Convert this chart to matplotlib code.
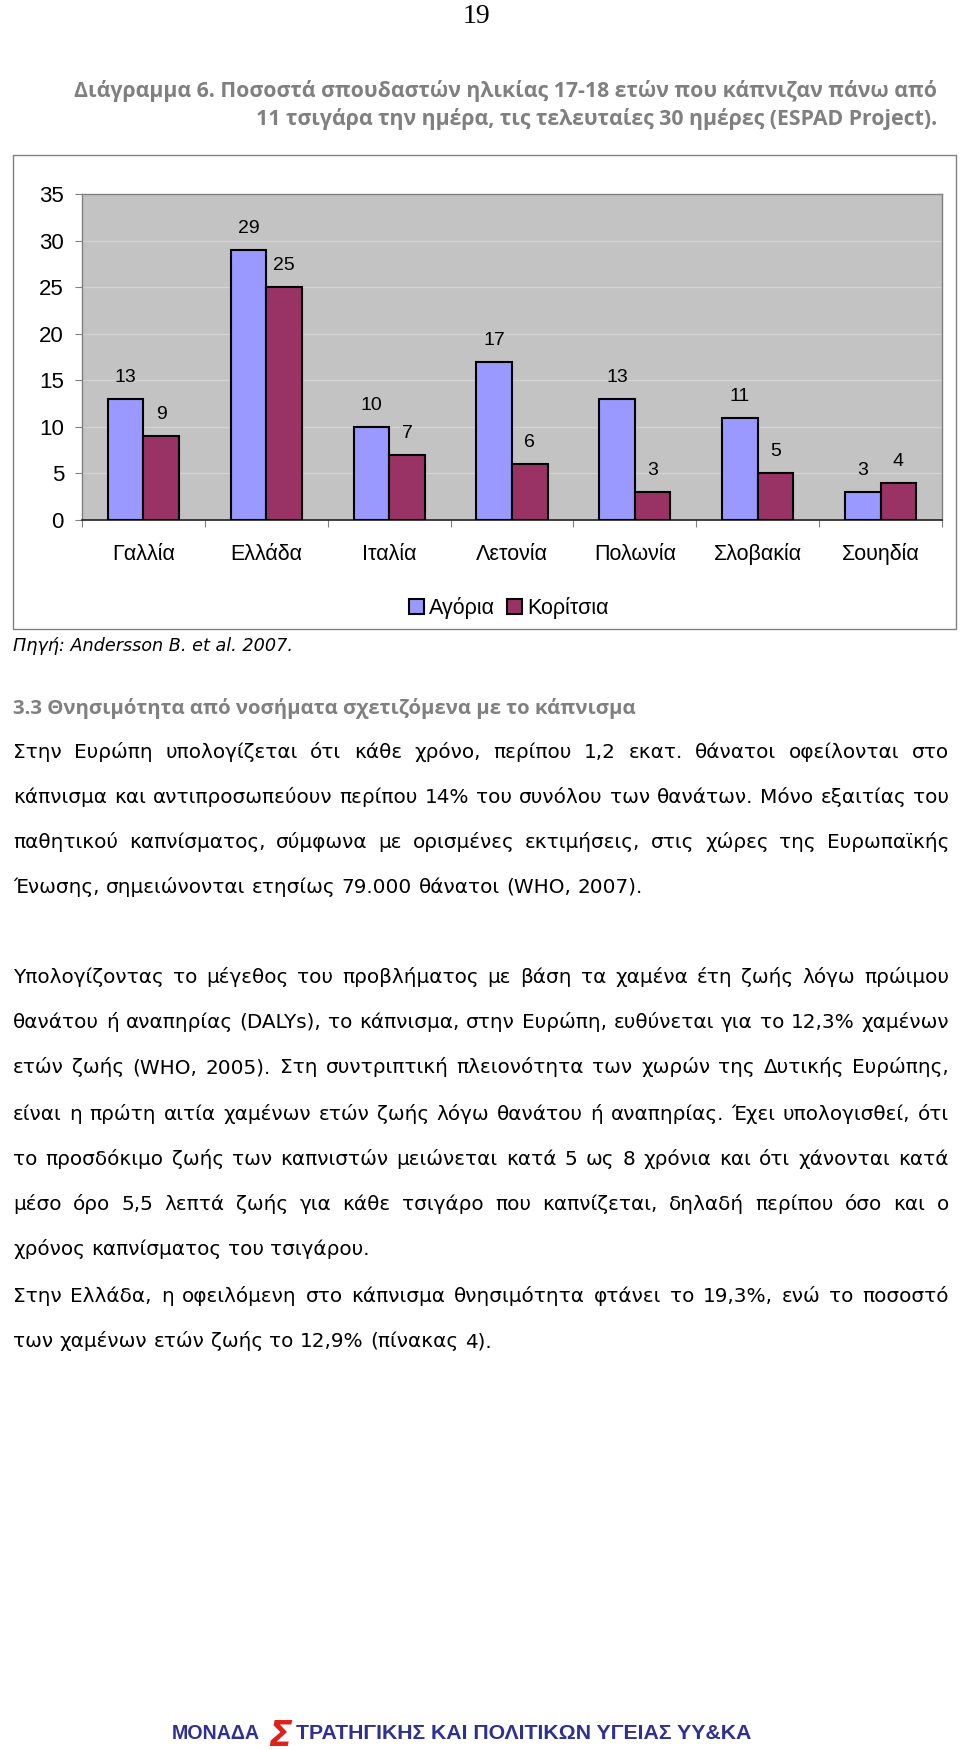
import matplotlib
matplotlib.use('Agg')
import matplotlib.pyplot as plt
import numpy as np
from matplotlib.patches import Rectangle

# ---------------- data ----------------
countries = ['Γαλλία', 'Ελλάδα', 'Ιταλία', 'Λετονία', 'Πολωνία', 'Σλοβακία', 'Σουηδία']
boys = [13, 29, 10, 17, 13, 11, 3]
girls = [9, 25, 7, 6, 3, 5, 4]
series_names = ['Αγόρια', 'Κορίτσια']
yticks = [0, 5, 10, 15, 20, 25, 30, 35]

page_number = '19'
title_lines = ['Διάγραμμα 6. Ποσοστά σπουδαστών ηλικίας 17-18 ετών που κάπνιζαν πάνω από',
               '11 τσιγάρα την ημέρα, τις τελευταίες 30 ημέρες (ESPAD Project).']
source_text = 'Πηγή: Andersson B. et al. 2007.'
heading_text = '3.3 Θνησιμότητα από νοσήματα σχετιζόμενα με το κάπνισμα'
paragraphs = [
    ['Στην Ευρώπη υπολογίζεται ότι κάθε χρόνο, περίπου 1,2 εκατ. θάνατοι οφείλονται στο',
     'κάπνισμα και αντιπροσωπεύουν περίπου 14% του συνόλου των θανάτων. Μόνο εξαιτίας του',
     'παθητικού καπνίσματος, σύμφωνα με ορισμένες εκτιμήσεις, στις χώρες της Ευρωπαϊκής',
     'Ένωσης, σημειώνονται ετησίως 79.000 θάνατοι (WHO, 2007).'],
    ['Υπολογίζοντας το μέγεθος του προβλήματος με βάση τα χαμένα έτη ζωής λόγω πρώιμου',
     'θανάτου ή αναπηρίας (DALYs), το κάπνισμα, στην Ευρώπη, ευθύνεται για το 12,3% χαμένων',
     'ετών ζωής (WHO, 2005). Στη συντριπτική πλειονότητα των χωρών της Δυτικής Ευρώπης,',
     'είναι η πρώτη αιτία χαμένων ετών ζωής λόγω θανάτου ή αναπηρίας. Έχει υπολογισθεί, ότι',
     'το προσδόκιμο ζωής των καπνιστών μειώνεται κατά 5 ως 8 χρόνια και ότι χάνονται κατά',
     'μέσο όρο 5,5 λεπτά ζωής για κάθε τσιγάρο που καπνίζεται, δηλαδή περίπου όσο και ο',
     'χρόνος καπνίσματος του τσιγάρου.'],
    ['Στην Ελλάδα, η οφειλόμενη στο κάπνισμα θνησιμότητα φτάνει το 19,3%, ενώ το ποσοστό',
     'των χαμένων ετών ζωής το 12,9% (πίνακας 4).'],
]
footer_left = 'ΜΟΝΑΔΑ'
footer_logo = 'Σ'
footer_right = 'ΤΡΑΤΗΓΙΚΗΣ ΚΑΙ ΠΟΛΙΤΙΚΩΝ ΥΓΕΙΑΣ ΥΥ&ΚΑ'

# ---------------- figure ----------------
plt.rcParams['font.family'] = ['Liberation Sans', 'DejaVu Sans']
W, H = 960, 1750
fig = plt.figure(figsize=(W / 100, H / 100), dpi=100)
fig.patch.set_facecolor('white')
renderer = fig.canvas.get_renderer()


def fx(x):
    return x / W


def fy(y):
    return 1 - y / H


# chart frame
fig.add_artist(Rectangle((fx(13), fy(629)), fx(956) - fx(13), (629 - 155) / H,
                         transform=fig.transFigure, fill=False,
                         edgecolor='#808080', lw=1.0))

ax = fig.add_axes([fx(82), fy(520), fx(942) - fx(82), (520 - 194) / H])
xpos = np.arange(len(countries))
bw = 0.29
b1 = ax.bar(xpos - bw / 2, boys, bw, color='#9999ff', edgecolor='black', lw=1.5,
            label=series_names[0], zorder=3)
b2 = ax.bar(xpos + bw / 2, girls, bw, color='#993366', edgecolor='black', lw=1.5,
            label=series_names[1], zorder=3)
ax.set_xlim(-0.5, len(countries) - 0.5)
ax.set_ylim(yticks[0], yticks[-1])
ax.set_facecolor('#c3c3c3')
ax.set_yticks(yticks)
ax.yaxis.grid(True, color='#d3d3d3', lw=0.9)
ax.set_axisbelow(True)
ax.set_xticks(xpos)
ax.set_xticklabels(countries, va='baseline')
ax.set_xticks(np.arange(-0.5, len(countries), 1), minor=True)
ax.tick_params(axis='x', which='major', length=0, pad=28.5, labelsize=15.5)
ax.tick_params(axis='x', which='minor', length=5, color='#808080', width=0.8)
ax.tick_params(axis='y', length=5, color='#808080', width=0.8, pad=8, labelsize=16)
for s in ['top', 'right', 'left']:
    ax.spines[s].set_color('#808080')
    ax.spines[s].set_linewidth(1.0)
ax.spines['bottom'].set_color('#202020')
ax.spines['bottom'].set_linewidth(1.2)

for bars, vals in ((b1, boys), (b2, girls)):
    for rect, v in zip(bars, vals):
        ax.annotate(str(v), (rect.get_x() + rect.get_width() / 2, v),
                    xytext=(0, 15.5), textcoords='offset points',
                    ha='center', va='center', fontsize=14)

fig.legend([b1, b2], series_names, loc='center', bbox_to_anchor=(fx(509), fy(608)),
           ncol=2, frameon=False, fontsize=15.5, handlelength=0.7, handleheight=0.7,
           handletextpad=0.25, columnspacing=0.55, borderpad=0, borderaxespad=0)


# ---------------- text helpers ----------------
def fit_text(xpx, ybase, s, target_w, base_size, ha='left', **kw):
    t = fig.text(fx(xpx), fy(ybase), s, fontsize=base_size, ha=ha, va='baseline', **kw)
    w = t.get_window_extent(renderer).width
    t.set_fontsize(base_size * target_w / w)
    return t


def text_width(s, size, **kw):
    t = fig.text(0, 0, s, fontsize=size, **kw)
    w = t.get_window_extent(renderer).width
    t.remove()
    return w


head_font = ['Open Sans', 'DejaVu Sans']

# page number
fig.text(fx(476), fy(23), page_number, fontsize=20, ha='center', va='baseline',
         family=['Liberation Serif', 'DejaVu Serif'])

# title (right aligned)
t1 = fit_text(937, 97, title_lines[0], 857, 13, ha='right',
              family=head_font, weight='bold', color='#808080')
fig.text(fx(937), fy(125), title_lines[1], fontsize=t1.get_fontsize(), ha='right',
         va='baseline', family=head_font, weight='bold', color='#808080')

# source
fit_text(13, 651, source_text, 280, 11, family=['DejaVu Sans'], style='italic',
         color='black')

# heading
fit_text(13, 714, heading_text, 626, 14, family=head_font, weight='bold',
         color='#808080')

# body text, justified
body_kw = dict(family=['DejaVu Sans'], color='black')
X0, X1 = 13, 949
base = 16.0
sp = text_width('x x', base, **body_kw) - text_width('xx', base, **body_kw)
max_nat = 0
for para in paragraphs:
    for line in para[:-1]:
        words = line.split(' ')
        nat = sum(text_width(w, base, **body_kw) for w in words) + sp * (len(words) - 1)
        max_nat = max(max_nat, nat)
body_size = base * min(1.0, (X1 - X0) / (max_nat * 1.005))
space_w = sp * body_size / base

line_centers = [[752, 797, 842, 887],
                [977, 1022, 1067, 1114, 1159, 1204, 1249],
                [1296, 1341]]

for para, ys in zip(paragraphs, line_centers):
    for i, (line, yc) in enumerate(zip(para, ys)):
        words = line.split(' ')
        ybase = yc + 6
        texts = [fig.text(0, fy(ybase), w, fontsize=body_size, ha='left',
                          va='baseline', **body_kw) for w in words]
        widths = [t.get_window_extent(renderer).width for t in texts]
        last = (i == len(para) - 1)
        if not last and len(words) > 1:
            gap = (X1 - X0 - sum(widths)) / (len(words) - 1)
        else:
            gap = space_w
        xx = X0
        for t, wd in zip(texts, widths):
            t.set_x(fx(xx))
            xx += wd + gap

# footer
blue = '#2e3192'
fit_text(172, 1739, footer_left, 88, 12, family=['Liberation Sans'], weight='bold', color=blue)
fig.text(fx(280), fy(1746), footer_logo, fontsize=25, ha='center', va='baseline',
         family=['DejaVu Sans'], weight='bold', style='italic', color='#e0201b')
fit_text(296, 1739, footer_right, 454, 12, family=['Liberation Sans'], weight='bold', color=blue)

fig.savefig('out.png', dpi=100, facecolor='white')
